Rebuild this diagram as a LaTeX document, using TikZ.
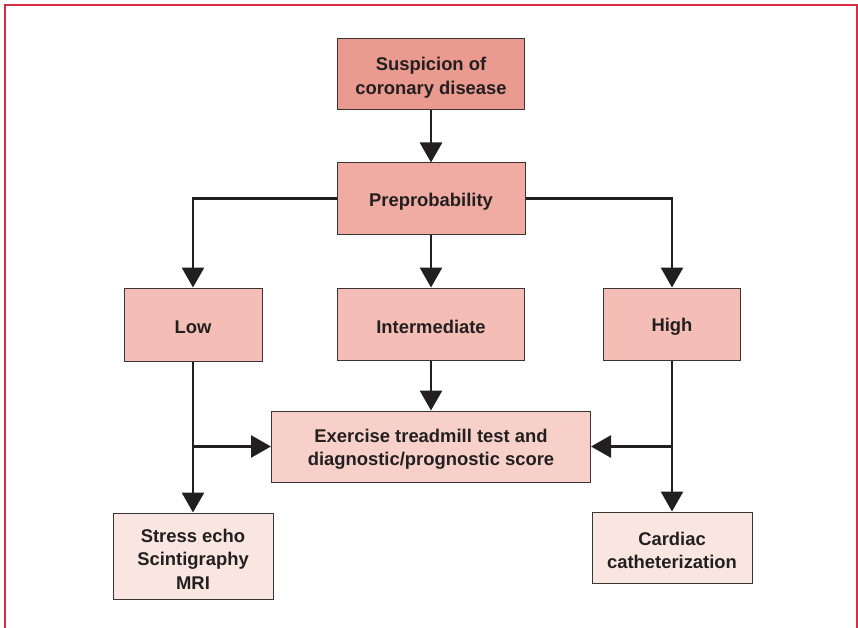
\documentclass[tikz,border=0pt]{standalone}
\usepackage{fontspec}
\setmainfont{Liberation Sans}
\usetikzlibrary{arrows.meta}
\definecolor{frame}{HTML}{D62F45}
\definecolor{ink}{HTML}{231F20}
\definecolor{cA}{HTML}{EA9A8E}
\definecolor{cB}{HTML}{F0ACA2}
\definecolor{cC}{HTML}{F4BEB6}
\definecolor{cD}{HTML}{F6D0C9}
\definecolor{cE}{HTML}{F9E6E0}
\tikzset{
  box/.style={draw=ink!90, line width=1pt, inner sep=0pt},
  lab/.style={align=center, inner sep=0pt, text=ink, yshift=-3pt,
     font=\fontsize{18.4}{23.5}\selectfont\bfseries},
  conn/.style={draw=ink, line width=2.7pt, -{Triangle[width=22pt,length=20pt]}}
}
\begin{document}
\begin{tikzpicture}[x=1pt,y=-1pt]
\useasboundingbox (0,0) rectangle (858,628);
\begin{scope}
\clip (0,0) rectangle (858,628);
\draw[frame, line width=2pt] (4.5,5.5) rectangle (857,660);
\end{scope}
\node[box, fill=cA, minimum width=187pt, minimum height=71pt,
  label={[lab]center:{Suspicion of\\coronary disease}}] (sus) at (431,74.5) {};
\node[box, fill=cB, minimum width=188pt, minimum height=71pt,
  label={[lab]center:Preprobability}] (pre) at (431,198.5) {};
\node[box, fill=cC, minimum width=138pt, minimum height=73pt,
  label={[lab]center:Low}] (low) at (193,324.5) {};
\node[box, fill=cC, minimum width=187pt, minimum height=72pt,
  label={[lab]center:Intermediate}] (int) at (431,324) {};
\node[box, fill=cC, minimum width=137pt, minimum height=72pt,
  label={[lab]center:High}] (high) at (672,324) {};
\node[box, fill=cD, minimum width=319pt, minimum height=71pt,
  label={[lab]center:{Exercise treadmill test and\\diagnostic/prognostic score}}] (ex) at (431,446.5) {};
\node[box, fill=cE, minimum width=160pt, minimum height=86pt,
  label={[lab]center:{Stress echo\\Scintigraphy\\MRI}}] (se) at (193,556) {};
\node[box, fill=cE, minimum width=160pt, minimum height=71pt,
  label={[lab]center:{Cardiac\\catheterization}}] (cc) at (672,547.5) {};
\coordinate (pl) at (low.north |- pre.west);
\coordinate (pr) at (high.north |- pre.east);
\coordinate (bl) at (low.south |- ex.west);
\coordinate (br) at (high.south |- ex.east);
\draw[conn] (sus.south) -- (pre.north);
\draw[conn] (pre.west) -- (pl) -- (low.north);
\draw[conn] (pre.east) -- (pr) -- (high.north);
\draw[conn] (pre.south) -- (int.north);
\draw[conn] (int.south) -- (ex.north);
\draw[conn] (low.south) -- (se.north);
\draw[conn] (bl) -- (ex.west);
\draw[conn] (high.south) -- (cc.north);
\draw[conn] (br) -- (ex.east);
\end{tikzpicture}
\end{document}
